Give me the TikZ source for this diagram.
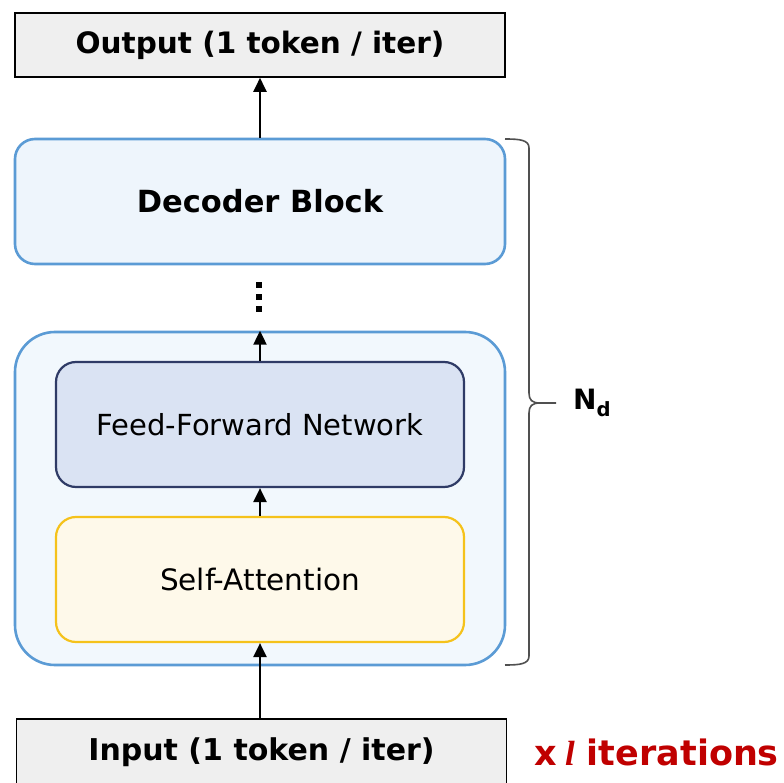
\documentclass[tikz,border=0pt]{standalone}
\usepackage{fontspec}
\setmainfont{DejaVu Sans}
\newfontfamily\lfont{Liberation Serif}
\usetikzlibrary{arrows.meta}
\definecolor{boxgray}{HTML}{EFEFEF}
\definecolor{blkfill}{HTML}{EEF5FC}
\definecolor{outfill}{HTML}{F2F8FD}
\definecolor{blkline}{HTML}{5B9BD5}
\definecolor{ffnfill}{HTML}{DAE3F3}
\definecolor{ffnline}{HTML}{2F3B66}
\definecolor{safill}{HTML}{FEF9EA}
\definecolor{saline}{HTML}{F5C21B}
\definecolor{itred}{HTML}{C00000}
\definecolor{bracegray}{HTML}{505050}
\tikzset{
  iobox/.style={draw=black, line width=1.6pt, fill=boxgray, minimum width=490pt, inner sep=0pt},
  blockbox/.style={draw=blkline, line width=2.6pt, fill=blkfill, rounded corners=20pt, minimum width=490pt, minimum height=125pt, inner sep=0pt},
  outerbox/.style={draw=blkline, line width=2.6pt, fill=outfill, rounded corners=40pt, minimum width=490pt, minimum height=333pt, inner sep=0pt},
  ffnbox/.style={draw=ffnline, line width=2.2pt, fill=ffnfill, rounded corners=20pt, minimum width=408pt, minimum height=125pt, inner sep=0pt},
  sabox/.style={draw=saline, line width=2.2pt, fill=safill, rounded corners=20pt, minimum width=408pt, minimum height=125pt, inner sep=0pt},
  arr/.style={line width=2.2pt, -{Triangle[length=14pt,width=13pt]}},
}
\begin{document}
\begin{tikzpicture}[x=1pt,y=-1pt]
\clip (0,0) rectangle (784,783);
\fill[white] (0,0) rectangle (784,783);

\node[iobox, minimum height=64pt, font=\fontsize{29.5}{31}\selectfont\bfseries] (out) at (260,45) {Output (1 token / iter)};
\node[blockbox, font=\fontsize{30.5}{32}\selectfont\bfseries] (dec) at (260,201.5) {Decoder Block};

\node[outerbox] (outer) at (260,498.5) {};
\node[ffnbox, font=\fontsize{29}{31}\selectfont] (ffn) at (260,424.5) {Feed-Forward Network};
\node[sabox, font=\fontsize{29.5}{31}\selectfont] (sa) at (260,579.5) {Self-Attention};

\node[iobox, minimum height=66pt, font=\fontsize{30}{32}\selectfont\bfseries] (inp) at (261.5,752) {Input (1 token / iter)};

\node[anchor=east, text=itred, font=\fontsize{35}{40}\selectfont\bfseries, inner sep=0pt] (iter) at (779,752) {x\hspace{8pt}{\lfont\bfseries\itshape l}\hspace{12pt}iterations};

% vertical dots
\node[inner sep=0pt, minimum size=30pt] (dots) at (259,297) {};
\foreach \yy in {285,297,309} \fill (256,\yy-3) rectangle (262,\yy+3);

% arrows
\draw[arr] (dec.north) -- (out.south);
\draw[arr] (ffn.north) -- (outer.north);
\draw[arr] (sa.north) -- (ffn.south);
\draw[arr] (inp.north -| sa.south) -- (sa.south);

% brace
\coordinate (btop) at (505,139);
\coordinate (bbot) at (505,665);
\coordinate (btip) at (556,403);
\draw[bracegray, line width=1.6pt]
  (btop) .. controls (520,139) and (529,140) .. (529,148) -- (529,393)
  .. controls (529,400) and (532,403) .. (540,403) -- (btip);
\draw[bracegray, line width=1.6pt]
  (bbot) .. controls (520,665) and (529,664) .. (529,656) -- (529,413)
  .. controls (529,406) and (532,403) .. (540,403);
\node[anchor=west, inner sep=0pt, font=\fontsize{28}{30}\selectfont\bfseries] (nd) at (573,403) {N\textsubscript{d}};
\end{tikzpicture}
\end{document}
